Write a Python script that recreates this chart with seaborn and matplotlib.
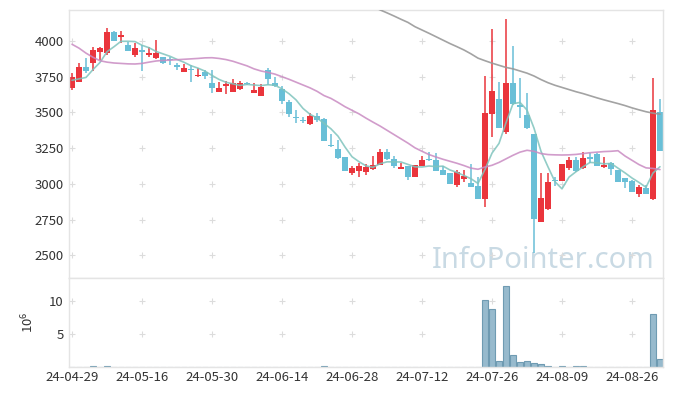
import numpy as np
import pandas as pd
import matplotlib
matplotlib.use("Agg")
import matplotlib.pyplot as plt
import seaborn as sns

# --------------------------------------
# Data (daily candles, 24-04-29 .. 24-08-30)
# --------------------------------------
opens = [3669, 3715, 3820, 3844, 3921, 3914, 4063, 4026, 3972, 3902,
         3932, 3905, 3880, 3885, 3870, 3832, 3785, 3805, 3752, 3780,
         3706, 3645, 3685, 3645, 3662, 3706, 3634, 3617, 3797, 3705,
         3662, 3571, 3467, 3442, 3417, 3475, 3452, 3272, 3242, 3186,
         3078, 3092, 3085, 3102, 3132, 3221, 3172, 3107, 3125, 3050,
         3125, 3170, 3167, 3097, 3074, 2992, 3034, 3008, 2985, 2896,
         3491, 3594, 3363, 3708, 3552, 3480, 3349, 2735, 2822, 3024,
         3022, 3113, 3167, 3109, 3186, 3209, 3116, 3144, 3097, 3040,
         3020, 2929, 2970, 2894, 3501]
highs = [3776, 3848, 3879, 3956, 3955, 4089, 4070, 4068, 3990, 3988,
         3975, 3955, 4005, 3890, 3890, 3845, 3837, 3832, 3810, 3797,
         3797, 3715, 3720, 3734, 3720, 3712, 3704, 3697, 3809, 3750,
         3685, 3587, 3517, 3466, 3494, 3494, 3460, 3349, 3307, 3190,
         3125, 3144, 3139, 3195, 3244, 3244, 3197, 3148, 3128, 3135,
         3195, 3225, 3218, 3125, 3078, 3097, 3097, 3137, 3050, 3755,
         4082, 3713, 4152, 3965, 3739, 3638, 3352, 3074, 3078, 3050,
         3140, 3186, 3190, 3225, 3214, 3218, 3190, 3155, 3100, 3043,
         3025, 2992, 2990, 3739, 3592]
lows = [3657, 3712, 3778, 3792, 3870, 3905, 4000, 3984, 3930, 3886,
        3790, 3890, 3875, 3842, 3832, 3797, 3783, 3716, 3750, 3734,
        3634, 3645, 3627, 3645, 3660, 3694, 3634, 3615, 3692, 3675,
        3557, 3470, 3424, 3425, 3415, 3435, 3298, 3256, 3172, 3090,
        3062, 3046, 3060, 3100, 3130, 3170, 3110, 3104, 3027, 3048,
        3123, 3162, 3090, 3060, 2998, 2980, 3015, 2978, 2895, 2840,
        3330, 3390, 3349, 3555, 3459, 3385, 2514, 2730, 2820, 2985,
        3020, 3097, 3085, 3107, 3144, 3123, 3114, 3062, 3013, 2970,
        2940, 2910, 2928, 2887, 3230]
closes = [3746, 3816, 3790, 3937, 3949, 4061, 4002, 4044, 3932, 3949,
          3925, 3915, 3915, 3845, 3865, 3815, 3813, 3797, 3760, 3758,
          3669, 3673, 3697, 3704, 3704, 3700, 3657, 3676, 3734, 3682,
          3577, 3487, 3458, 3438, 3475, 3448, 3302, 3262, 3183, 3093,
          3111, 3127, 3116, 3132, 3221, 3172, 3128, 3111, 3050, 3132,
          3167, 3165, 3093, 3062, 3000, 3081, 3055, 2980, 2897, 3494,
          3650, 3393, 3708, 3559, 3538, 3389, 2756, 2899, 3013, 3020,
          3137, 3167, 3090, 3179, 3176, 3125, 3132, 3102, 3015, 3011,
          2946, 2976, 2930, 3517, 3232]

# moving averages
ma_short = [3725, 3735, 3745, 3800, 3850, 3925, 3960, 3998, 3998, 3996,
            3970, 3953, 3927, 3910, 3893, 3871, 3851, 3827, 3810, 3789,
            3759, 3731, 3711, 3700, 3689, 3696, 3692, 3688, 3694, 3690,
            3665, 3631, 3588, 3528, 3487, 3461, 3424, 3385, 3334, 3258,
            3190, 3155, 3126, 3116, 3141, 3154, 3154, 3153, 3136, 3119,
            3118, 3125, 3121, 3124, 3097, 3080, 3058, 3036, 3003, 3101,
            3215, 3283, 3428, 3561, 3570, 3517, 3390, 3228, 3119, 3015,
            2965, 3047, 3085, 3119, 3150, 3147, 3140, 3143, 3110, 3077,
            3041, 3010, 2976, 3076, 3120]
ma_mid = [3977, 3950, 3915, 3886, 3862, 3852, 3846, 3843, 3840, 3839,
          3843, 3852, 3860, 3864, 3866, 3869, 3872, 3875, 3878, 3882,
          3883, 3878, 3870, 3858, 3842, 3826, 3805, 3790, 3780, 3768,
          3750, 3732, 3712, 3692, 3672, 3648, 3618, 3598, 3570, 3540,
          3515, 3490, 3460, 3432, 3405, 3375, 3345, 3315, 3285, 3252,
          3228, 3205, 3188, 3172, 3158, 3144, 3128, 3110, 3102, 3118,
          3130, 3150, 3175, 3200, 3222, 3235, 3228, 3212, 3205, 3203,
          3202, 3203, 3206, 3212, 3218, 3222, 3226, 3228, 3232, 3195,
          3165, 3135, 3112, 3108, 3100]
ma_long = [np.nan] * 43 + [
    4240, 4218, 4197, 4175, 4152, 4130, 4100,
    4077, 4054, 4030, 4006, 3982, 3960, 3937, 3910, 3880, 3862,
    3845, 3830, 3815, 3805, 3790, 3775, 3755, 3730, 3708, 3690,
    3675, 3660, 3645, 3632, 3617, 3602, 3588, 3575, 3562, 3548,
    3532, 3518, 3505, 3495, 3488]

# volume in millions
volume = [0, 0, 0, 0.12, 0, 0.12, 0, 0, 0, 0,
          0, 0, 0, 0, 0, 0, 0, 0, 0, 0,
          0, 0, 0, 0, 0, 0, 0, 0, 0, 0,
          0, 0, 0, 0, 0, 0, 0.12, 0, 0, 0,
          0, 0, 0, 0, 0, 0, 0, 0, 0, 0,
          0, 0, 0, 0, 0, 0, 0, 0, 0, 10.15,
          8.73, 0.86, 12.28, 1.78, 0.71, 0.86, 0.56, 0.46, 0.15, 0,
          0.08, 0, 0.08, 0.08, 0, 0, 0, 0, 0, 0,
          0, 0, 0, 8.02, 1.17]

tick_pos = [0, 10, 20, 30, 40, 50, 60, 70, 80]
tick_labels = ["24-04-29", "24-05-16", "24-05-30", "24-06-14", "24-06-28",
               "24-07-12", "24-07-26", "24-08-09", "24-08-26"]
price_ticks = [2500, 2750, 3000, 3250, 3500, 3750, 4000]
vol_ticks = [5, 10]

RED = "#ea353c"
BLUE = "#69bfd7"
GRID = "#dcdcdc"
SPINE = "#e4e4e4"
TXT = "#333333"

df = pd.DataFrame({
    "idx": np.arange(len(closes)),
    "open": opens, "high": highs, "low": lows, "close": closes,
    "ma_short": ma_short, "ma_mid": ma_mid, "ma_long": ma_long,
    "volume": volume,
})

sns.set_theme(style="white")
plt.rcParams['font.family'] = ['Noto Sans CJK KR', 'DejaVu Sans']

fig = plt.figure(figsize=(6.73, 3.96), dpi=100)
ax = fig.add_axes([69/673, 1-278/396, 594/673, 268/396])
axv = fig.add_axes([69/673, 1-367/396, 594/673, 89/396], sharex=ax)

# watermark
ax.text(83.3, 2411, "InfoPointer.com", ha="right", va="baseline",
        fontsize=21, color="#c9dae4", family=["Noto Sans", "DejaVu Sans"],
        zorder=0)

# grid crosses
for a, yt in [(ax, price_ticks), (axv, vol_ticks)]:
    gx, gy = np.meshgrid(tick_pos, yt)
    a.scatter(gx.ravel(), gy.ravel(), marker="+", s=18, color=GRID,
              linewidths=0.8, zorder=0.5)

# candles
up = df["close"] >= df["open"]
cols = np.where(up, RED, BLUE)
ax.vlines(df["idx"], df["low"], df["high"], colors=cols, linewidth=1.1, zorder=2)
body = np.maximum((df["close"] - df["open"]).abs(), 9)
bottom = np.minimum(df["open"], df["close"])
ax.bar(df["idx"], body, bottom=bottom, width=0.72, color=cols, linewidth=0, zorder=2)

# moving averages
sns.lineplot(data=df, x="idx", y="ma_short", ax=ax, color="#7fc4bd",
             linewidth=1.2, alpha=0.85, zorder=3)
sns.lineplot(data=df, x="idx", y="ma_mid", ax=ax, color="#c98bc2",
             linewidth=1.2, alpha=0.85, zorder=3)
sns.lineplot(data=df, x="idx", y="ma_long", ax=ax, color="#999999",
             linewidth=1.2, alpha=0.9, zorder=3)

# volume
sns.barplot(data=df, x="idx", y="volume", native_scale=True, ax=axv,
            color="#97bacd", saturation=1, width=0.92, errorbar=None,
            edgecolor="#6f9bb2", linewidth=0.8)

ax.set_xlim(-0.43, 84.43)
ax.set_ylim(2341, 4217)
axv.set_ylim(0, 13.5)

ax.set_yticks(price_ticks)
axv.set_yticks(vol_ticks)
axv.set_xticks(tick_pos)
axv.set_xticklabels(tick_labels)
ax.tick_params(axis="x", labelbottom=False, length=0)
for a in (ax, axv):
    a.tick_params(axis="both", length=0, labelsize=9.5, labelcolor=TXT, pad=4)
    a.set_xlabel("")
    a.set_ylabel("")
    for s in a.spines.values():
        s.set_color(SPINE)
        s.set_linewidth(1)
axv.tick_params(axis="x", pad=3)
axv.set_ylabel(r"$\mathregular{10^6}$", fontsize=9.5, color=TXT, labelpad=9)

fig.savefig("out.png", dpi=100)
